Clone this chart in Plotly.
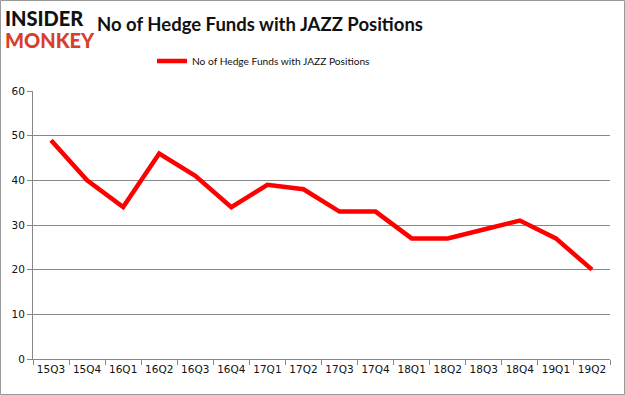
import plotly.graph_objects as go

quarters = ["15Q3", "15Q4", "16Q1", "16Q2", "16Q3", "16Q4", "17Q1", "17Q2",
            "17Q3", "17Q4", "18Q1", "18Q2", "18Q3", "18Q4", "19Q1", "19Q2"]
hedge_funds = [49, 40, 34, 46, 41, 34, 39, 38, 33, 33, 27, 27, 29, 31, 27, 20]
series_name = "No of Hedge Funds with JAZZ Positions"

W, H = 625, 395
L, R, T, B = 33, 15, 91, 36
pw, ph = W - L - R, H - T - B

fig = go.Figure()
fig.add_trace(go.Scatter(x=quarters, y=hedge_funds, mode="lines", name=series_name,
                         line=dict(color="#ff0000", width=4.5)))

fig.update_layout(
    width=W, height=H,
    margin=dict(l=L, r=R, t=T, b=B, autoexpand=False),
    paper_bgcolor="white", plot_bgcolor="white",
    font=dict(family="DejaVu Sans, sans-serif", size=10, color="#222"),
    title=dict(text="<b>No of Hedge Funds with JAZZ Positions</b>",
               x=260 / W, xanchor="center", y=1 - 25 / H, yanchor="middle",
               font=dict(size=18.5, color="#111", family="Lato, Liberation Sans, sans-serif")),
    showlegend=True,
    legend=dict(orientation="h", x=(152 - L) / pw, xanchor="left",
                y=1 + (T - 61) / ph, yanchor="middle", itemwidth=30,
                font=dict(size=10.2, color="#111", family="Lato, sans-serif"),
                bgcolor="rgba(0,0,0,0)"),
    xaxis=dict(showgrid=False, showline=True, linecolor="#888", linewidth=1,
               ticks="outside", tickson="boundaries", ticklen=5, tickcolor="#888",
               tickangle=0, tickfont=dict(size=10.5, color="#111"),
               range=[-0.5, len(quarters) - 0.5]),
    yaxis=dict(range=[0, 60], dtick=10, showgrid=True, gridcolor="#888", gridwidth=1,
               showline=True, linecolor="#888", ticks="outside", ticklen=5,
               tickcolor="#888", tickfont=dict(size=10.5, color="#111"), zeroline=False),
)

# logo
fig.add_annotation(xref="paper", yref="paper", x=-(L - 3) / pw, y=1 + (T - 18) / ph,
                   xanchor="left", yanchor="middle", showarrow=False,
                   text="INSIDER",
                   font=dict(family="Lato", size=20, color="#111", weight=900))
fig.add_annotation(xref="paper", yref="paper", x=-(L - 3) / pw, y=1 + (T - 40) / ph,
                   xanchor="left", yanchor="middle", showarrow=False,
                   text="MONKEY",
                   font=dict(family="Lato", size=20, color="#d6402c", weight=900))

# outer border
fig.add_shape(type="rect", xref="paper", yref="paper",
              x0=-(L - 0.5) / pw, x1=1 + (R - 0.5) / pw,
              y0=-(B - 0.5) / ph, y1=1 + (T - 0.5) / ph,
              line=dict(color="#999", width=1))

fig.write_html("out.html", config={"displayModeBar": False},
               post_script="document.body.style.margin='0';")
